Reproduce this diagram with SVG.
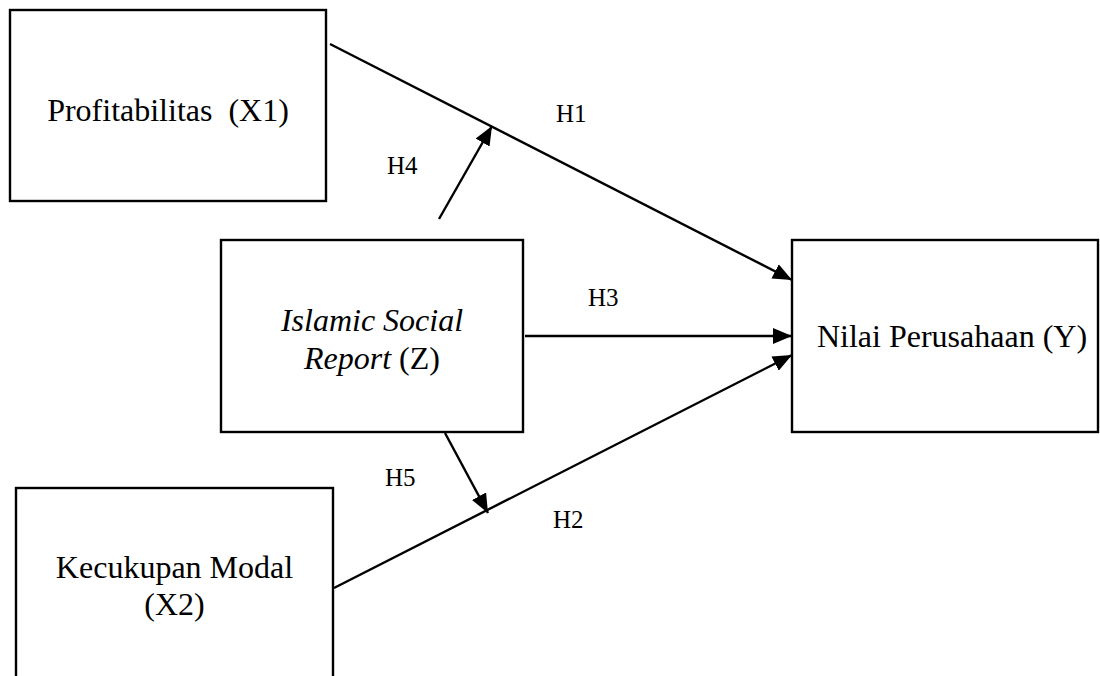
<svg xmlns="http://www.w3.org/2000/svg" width="1100" height="676" viewBox="0 0 1100 676">
<defs>
<style>
.box{fill:#fff;stroke:#000;stroke-width:2.4}
.t{font-family:"Liberation Serif","Times New Roman",serif;font-size:32px;fill:#000;text-anchor:middle}
.h{font-family:"Liberation Serif","Times New Roman",serif;font-size:25px;fill:#000}
.c{stroke:#000;stroke-width:2.4;fill:none;marker-end:url(#ah)}
</style>
<marker id="ah" markerUnits="userSpaceOnUse" markerWidth="20" markerHeight="16" refX="19" refY="8" orient="auto">
<path d="M0,0 L19,8 L0,16 z" fill="#000"/>
</marker>
</defs>
<rect width="1100" height="676" fill="#fff"/>
<g id="node-x1">
<rect class="box" x="10" y="10" width="316" height="191"/>
<text class="t" x="168" y="121" xml:space="preserve">Profitabilitas  (X1)</text>
</g>
<g id="node-z">
<rect class="box" x="221" y="240" width="302" height="192"/>
<text class="t" x="372" y="331"><tspan font-style="italic">Islamic Social</tspan></text>
<text class="t" x="372" y="369"><tspan font-style="italic">Report</tspan> (Z)</text>
</g>
<g id="node-y">
<rect class="box" x="792" y="240" width="306" height="192"/>
<text class="t" x="952" y="347">Nilai Perusahaan (Y)</text>
</g>
<g id="node-x2">
<rect class="box" x="16" y="488" width="317" height="200"/>
<text class="t" x="174.5" y="578">Kecukupan Modal</text>
<text class="t" x="174.5" y="615">(X2)</text>
</g>
<g id="connectors">
<line class="c" x1="330" y1="44" x2="792" y2="280"/>
<line class="c" x1="525" y1="336" x2="792" y2="336"/>
<line class="c" x1="334" y1="588" x2="792" y2="355"/>
<line class="c" x1="439" y1="219" x2="492" y2="126"/>
<line class="c" x1="445" y1="433" x2="488" y2="513"/>
</g>
<g id="labels">
<text class="h" x="556" y="122">H1</text>
<text class="h" x="387" y="174">H4</text>
<text class="h" x="588" y="306">H3</text>
<text class="h" x="385" y="486">H5</text>
<text class="h" x="553" y="528">H2</text>
</g>
</svg>
